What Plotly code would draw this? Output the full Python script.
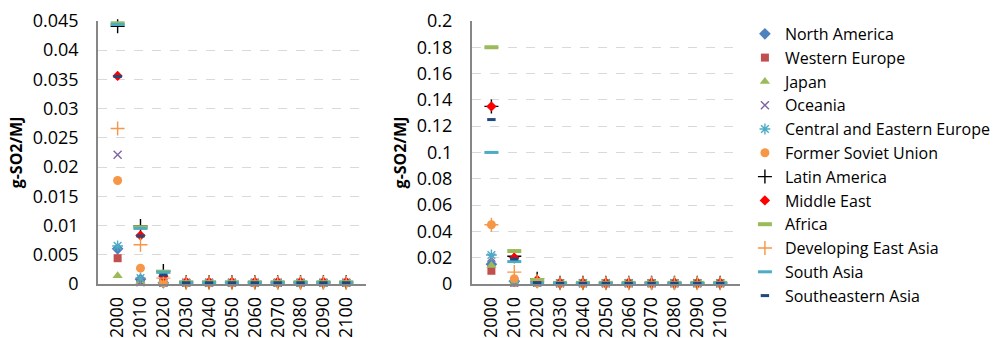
import plotly.graph_objects as go
from plotly.subplots import make_subplots

years = ["2000", "2010", "2020", "2030", "2040", "2050", "2060", "2070", "2080", "2090", "2100"]

regions = [
    "North America", "Western Europe", "Japan", "Oceania",
    "Central and Eastern Europe", "Former Soviet Union", "Latin America",
    "Middle East", "Africa", "Developing East Asia", "South Asia",
    "Southeastern Asia",
]

# Left panel: g-SO2/MJ by region
left_north_america = [0.0060, 0.0008, 0.0002, 0.0002, 0.0002, 0.0002, 0.0002, 0.0002, 0.0002, 0.0002, 0.0002]
left_western_europe = [0.0044, 0.0004, 0.0002, 0.0002, 0.0002, 0.0002, 0.0002, 0.0002, 0.0002, 0.0002, 0.0002]
left_japan = [0.0014, 0.0004, 0.0002, 0.0002, 0.0002, 0.0002, 0.0002, 0.0002, 0.0002, 0.0002, 0.0002]
left_oceania = [0.0221, 0.0003, 0.0002, 0.0002, 0.0002, 0.0002, 0.0002, 0.0002, 0.0002, 0.0002, 0.0002]
left_ce_europe = [0.0065, 0.0010, 0.0002, 0.0002, 0.0002, 0.0002, 0.0002, 0.0002, 0.0002, 0.0002, 0.0002]
left_fsu = [0.0177, 0.0027, 0.0002, 0.0002, 0.0002, 0.0002, 0.0002, 0.0002, 0.0002, 0.0002, 0.0002]
left_latin_america = [0.0441, 0.0099, 0.0022, 0.0003, 0.0003, 0.0003, 0.0003, 0.0003, 0.0003, 0.0003, 0.0003]
left_middle_east = [0.0356, 0.0083, 0.0013, 0.0003, 0.0003, 0.0003, 0.0003, 0.0003, 0.0003, 0.0003, 0.0003]
left_africa = [0.0446, 0.0097, 0.0021, 0.0003, 0.0003, 0.0003, 0.0003, 0.0003, 0.0003, 0.0003, 0.0003]
left_dev_east_asia = [0.0266, 0.0067, 0.0010, 0.0002, 0.0002, 0.0002, 0.0002, 0.0002, 0.0002, 0.0002, 0.0002]
left_south_asia = [0.0444, 0.0095, 0.0020, 0.0002, 0.0002, 0.0002, 0.0002, 0.0002, 0.0002, 0.0002, 0.0002]
left_se_asia = [0.0355, 0.0082, 0.0015, 0.0002, 0.0002, 0.0002, 0.0002, 0.0002, 0.0002, 0.0002, 0.0002]

# Right panel: g-SO2/MJ by region
right_north_america = [0.015, 0.002, 0.001, 0.0005, 0.0005, 0.0005, 0.0005, 0.0005, 0.0005, 0.0005, 0.0005]
right_western_europe = [0.010, 0.001, 0.001, 0.0005, 0.0005, 0.0005, 0.0005, 0.0005, 0.0005, 0.0005, 0.0005]
right_japan = [0.014, 0.001, 0.001, 0.0005, 0.0005, 0.0005, 0.0005, 0.0005, 0.0005, 0.0005, 0.0005]
right_oceania = [0.020, 0.001, 0.001, 0.0005, 0.0005, 0.0005, 0.0005, 0.0005, 0.0005, 0.0005, 0.0005]
right_ce_europe = [0.022, 0.002, 0.001, 0.0005, 0.0005, 0.0005, 0.0005, 0.0005, 0.0005, 0.0005, 0.0005]
right_fsu = [0.045, 0.004, 0.001, 0.0005, 0.0005, 0.0005, 0.0005, 0.0005, 0.0005, 0.0005, 0.0005]
right_latin_america = [0.135, 0.021, 0.004, 0.0008, 0.0008, 0.0008, 0.0008, 0.0008, 0.0008, 0.0008, 0.0008]
right_middle_east = [0.135, 0.020, 0.003, 0.0008, 0.0008, 0.0008, 0.0008, 0.0008, 0.0008, 0.0008, 0.0008]
right_africa = [0.180, 0.025, 0.003, 0.0008, 0.0008, 0.0008, 0.0008, 0.0008, 0.0008, 0.0008, 0.0008]
right_dev_east_asia = [0.045, 0.009, 0.002, 0.0005, 0.0005, 0.0005, 0.0005, 0.0005, 0.0005, 0.0005, 0.0005]
right_south_asia = [0.100, 0.017, 0.001, 0.0005, 0.0005, 0.0005, 0.0005, 0.0005, 0.0005, 0.0005, 0.0005]
right_se_asia = [0.125, 0.019, 0.001, 0.0005, 0.0005, 0.0005, 0.0005, 0.0005, 0.0005, 0.0005, 0.0005]

left_series = [left_north_america, left_western_europe, left_japan, left_oceania,
               left_ce_europe, left_fsu, left_latin_america, left_middle_east,
               left_africa, left_dev_east_asia, left_south_asia, left_se_asia]
right_series = [right_north_america, right_western_europe, right_japan, right_oceania,
                right_ce_europe, right_fsu, right_latin_america, right_middle_east,
                right_africa, right_dev_east_asia, right_south_asia, right_se_asia]

# (symbol, colour, size, line width)
styles = [
    ("diamond", "#4F81BD", 9, 0),
    ("square", "#C0504D", 8, 0),
    ("triangle-up", "#9BBB59", 9, 0),
    ("x-thin", "#8064A2", 8, 1.4),
    ("asterisk", "#4BACC6", 9, 1.4),
    ("circle", "#F79646", 9, 0),
    ("cross-thin", "#000000", 10, 1.4),
    ("diamond", "#FF0000", 8, 0),
    ("line-ew", "#9BBB59", 10, 4),
    ("cross-thin", "#F79646", 10, 1.4),
    ("line-ew", "#4BACC6", 10, 3),
    ("line-ew", "#1F497D", 6, 3),
]

fig = make_subplots(rows=1, cols=2)

for col, series in ((1, left_series), (2, right_series)):
    for name, vals, (sym, color, size, lw) in zip(regions, series, styles):
        open_sym = sym in ("x-thin", "asterisk", "cross-thin", "line-ew")
        marker = dict(symbol=sym, size=size, color=color)
        if open_sym:
            marker["line"] = dict(color=color, width=lw)
        fig.add_trace(
            go.Scatter(x=years, y=vals, mode="markers", name=name,
                       marker=marker, showlegend=(col == 1), cliponaxis=False),
            row=1, col=col,
        )

font_family = "Open Sans, sans-serif"
axis_common = dict(
    showline=True, linecolor="#868686", linewidth=1.5,
    showgrid=True, gridcolor="#D9D9D9", griddash="dash", gridwidth=1,
    zeroline=False, ticks="", automargin=False,
    tickfont=dict(size=18, color="#000000", family=font_family),
)

fig.update_xaxes(axis_common, tickangle=-90, showgrid=False, type="category",
                 ticklabelstandoff=4)
fig.update_xaxes(domain=[0.0972, 0.363], row=1, col=1)
fig.update_xaxes(domain=[0.468, 0.734], row=1, col=2)

fig.update_yaxes(axis_common, ticklabelstandoff=14)
fig.update_yaxes(range=[0, 0.045], dtick=0.005, tickformat="~r", row=1, col=1)
fig.update_yaxes(range=[0, 0.2], dtick=0.02, tickformat="~r", row=1, col=2)
fig.update_yaxes(
    title=dict(text="g-SO2/MJ", font=dict(size=16, family=font_family, color="#000000", weight="bold"), standoff=6),
    domain=[0.16, 0.938],
)

fig.update_layout(
    width=1008, height=338,
    margin=dict(l=0, r=0, t=0, b=0),
    paper_bgcolor="white", plot_bgcolor="white",
    font=dict(family=font_family, color="#000000"),
    legend=dict(x=0.739, y=0.95, xanchor="left", yanchor="top",
                font=dict(size=16, family=font_family, color="#000000"),
                itemwidth=30, tracegroupgap=0, bgcolor="rgba(0,0,0,0)"),
)

fig.write_html("out.html")
